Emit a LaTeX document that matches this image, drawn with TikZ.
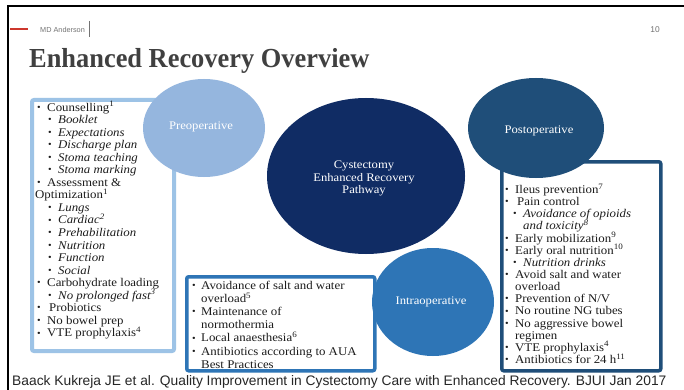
\documentclass[tikz,border=0pt]{standalone}
\usepackage{fontspec}
\setmainfont{Liberation Serif}
\newfontfamily\bodyfont[FakeStretch=1.09]{Liberation Serif}
\newfontfamily\titlefont[FakeStretch=0.96]{Liberation Serif}
\newfontfamily\sansfam{Liberation Sans}
\usetikzlibrary{shapes.geometric,backgrounds}

\definecolor{preblue}{RGB}{149,182,222}
\definecolor{preline}{RGB}{157,195,230}
\definecolor{coreblue}{RGB}{16,44,100}
\definecolor{postblue}{RGB}{31,78,121}
\definecolor{intrablue}{RGB}{46,117,182}
\definecolor{inktext}{RGB}{28,28,28}
\definecolor{titlegray}{RGB}{64,64,64}
\definecolor{headgray}{RGB}{115,115,115}
\definecolor{accentred}{RGB}{205,55,45}

% bullet list helpers
\newlength\bw
\newlength\sbind
\newcommand\bul{\raisebox{0.15ex}{\scalebox{0.8}{•}}}
\newcommand\itm[1]{\makebox[\bw][l]{\bul}#1}
\newcommand\sbi[1]{\hspace*{\sbind}\makebox[\bw][l]{\bul}\textit{#1}}
\newcommand\hang[1]{\hspace*{\bw}#1}
\newcommand\subhang[1]{\hspace*{\sbind}\hspace*{\bw}\textit{#1}}
% fixed line pitch regardless of superscripts
\newcommand\listfont[3]{\bodyfont\fontsize{11.8}{#1}\selectfont\lineskiplimit=-20pt\lineskip=0pt\setlength\bw{#2}\setlength\sbind{#3}}

\tikzset{
  phase/.style={ellipse, inner sep=0pt, text=white, align=center,
    font=\bodyfont\fontsize{11.6}{12.5}\selectfont},
  listbox/.style={rectangle, fill=white, rounded corners=2pt, anchor=north west, inner sep=0pt},
  listtext/.style={anchor=north west, inner sep=0pt, align=left, text=inktext},
  link/.style={line width=6pt},
}

\begin{document}
\begin{tikzpicture}[x=1pt,y=-1pt]
\useasboundingbox (0,0) rectangle (684,390);
\fill[white] (0,0) rectangle (684,390);

% slide frame and header
\draw[line width=1.6pt, black] (8,390) -- (8,6) -- (684,6);
\draw[line width=2pt, accentred] (10,29.5) -- (28,29.5);
\node (org) [anchor=west, inner sep=0pt, text=headgray, font=\sansfam\fontsize{7.3}{9}\selectfont] at (40,29.5) {MD Anderson};
\draw[headgray, line width=0.5pt] (89,21) -- (89,37);
\node (pageno) [anchor=center, inner sep=0pt, text=headgray, font=\sansfam\fontsize{8.4}{10}\selectfont] at (655,30) {10};
\node (title) [anchor=base west, inner sep=0pt, text=titlegray, font=\titlefont\fontsize{27.5}{30}\selectfont\bfseries] at (29,68) {Enhanced Recovery Overview};

% list boxes
\node (prebox) [listbox, draw=preline, line width=4pt, minimum width=142pt, minimum height=251pt] at (30,98) {};
\node (intrabox) [listbox, draw=intrablue, line width=3.5pt, minimum width=188pt, minimum height=94pt] at (185,275) {};
\node (postbox) [listbox, draw=postblue, line width=3.5pt, minimum width=159pt, minimum height=209pt] at (500,160) {};

% phase ellipses
\node (pre) [phase, fill=preblue, minimum width=122pt, minimum height=98pt] at (204,128) {};
\node (core) [phase, fill=coreblue, minimum width=198pt, minimum height=156pt] at (366,176) {};
\node (post) [phase, fill=postblue, minimum width=136pt, minimum height=100pt] at (536,128) {};
\node (intra) [phase, fill=intrablue, minimum width=122pt, minimum height=108pt] at (433,302) {};

\node (prelabel) [phase] at (201,127) {Preoperative};
\node (corelabel) [phase] at (364,178.5) {Cystectomy\\Enhanced Recovery\\Pathway};
\node (postlabel) [phase] at (539,131) {Postoperative};
\node (intralabel) [phase] at (431,302) {Intraoperative};

% connectors behind the ellipses
\begin{scope}[on background layer]
\draw[link, preline] (pre.center) -- (core.center);
\draw[link, postblue] (core.8) -- (post.225);
\draw[link, intrablue!85!white] (core.265) -- (intra.150);
\end{scope}

% list contents
\node (pretext) [listtext, font={\listfont{12.55}{10pt}{11pt}}] at (37,101) {%
\itm{Counselling\textsuperscript{1}}\\
\sbi{Booklet}\\
\sbi{Expectations}\\
\sbi{Discharge plan}\\
\sbi{Stoma teaching}\\
\sbi{Stoma marking}\\
\itm{Assessment \&}\\
\hspace*{-2pt}Optimization\textsuperscript{1}\\
\sbi{Lungs}\\
\sbi{Cardiac\textsuperscript{2}}\\
\sbi{Prehabilitation}\\
\sbi{Nutrition}\\
\sbi{Function}\\
\sbi{Social}\\
\itm{Carbohydrate loading}\\
\sbi{No prolonged fast\textsuperscript{3}}\\
\itm{\,Probiotics}\\
\itm{No bowel prep}\\
\itm{VTE prophylaxis\textsuperscript{4}}};

\node (intratext) [listtext, font={\listfont{13.1}{9pt}{11pt}}] at (192,281) {%
\itm{Avoidance of salt and water}\\
\hang{overload\textsuperscript{5}}\\
\itm{Maintenance of}\\
\hang{normothermia}\\
\itm{Local anaesthesia\textsuperscript{6}}\\
\itm{Antibiotics according to AUA}\\
\hang{Best Practices}};

\node (posttext) [listtext, font={\listfont{12.14}{10pt}{8pt}}] at (505,183.5) {%
\itm{Ileus prevention\textsuperscript{7}}\\
\itm{\,Pain control}\\
\sbi{Avoidance of opioids}\\
\subhang{and toxicity\textsuperscript{8}}\\
\itm{Early mobilization\textsuperscript{9}}\\
\itm{Early oral nutrition\textsuperscript{10}}\\
\sbi{Nutrition drinks}\\
\itm{Avoid salt and water}\\
\hang{overload}\\
\itm{Prevention of N/V}\\
\itm{No routine NG tubes}\\
\itm{No aggressive bowel}\\
\hang{regimen}\\
\itm{VTE prophylaxis\textsuperscript{4}}\\
\itm{Antibiotics for 24 h\textsuperscript{11}}};

% reference line
\node (cite) [anchor=base west, inner sep=0pt, text=black!85, font=\sansfam\fontsize{13.8}{16}\selectfont] at (12,385) {Baack Kukreja JE et al. Quality Improvement in Cystectomy Care with Enhanced Recovery. BJUI Jan 2017};
\end{tikzpicture}
\end{document}
